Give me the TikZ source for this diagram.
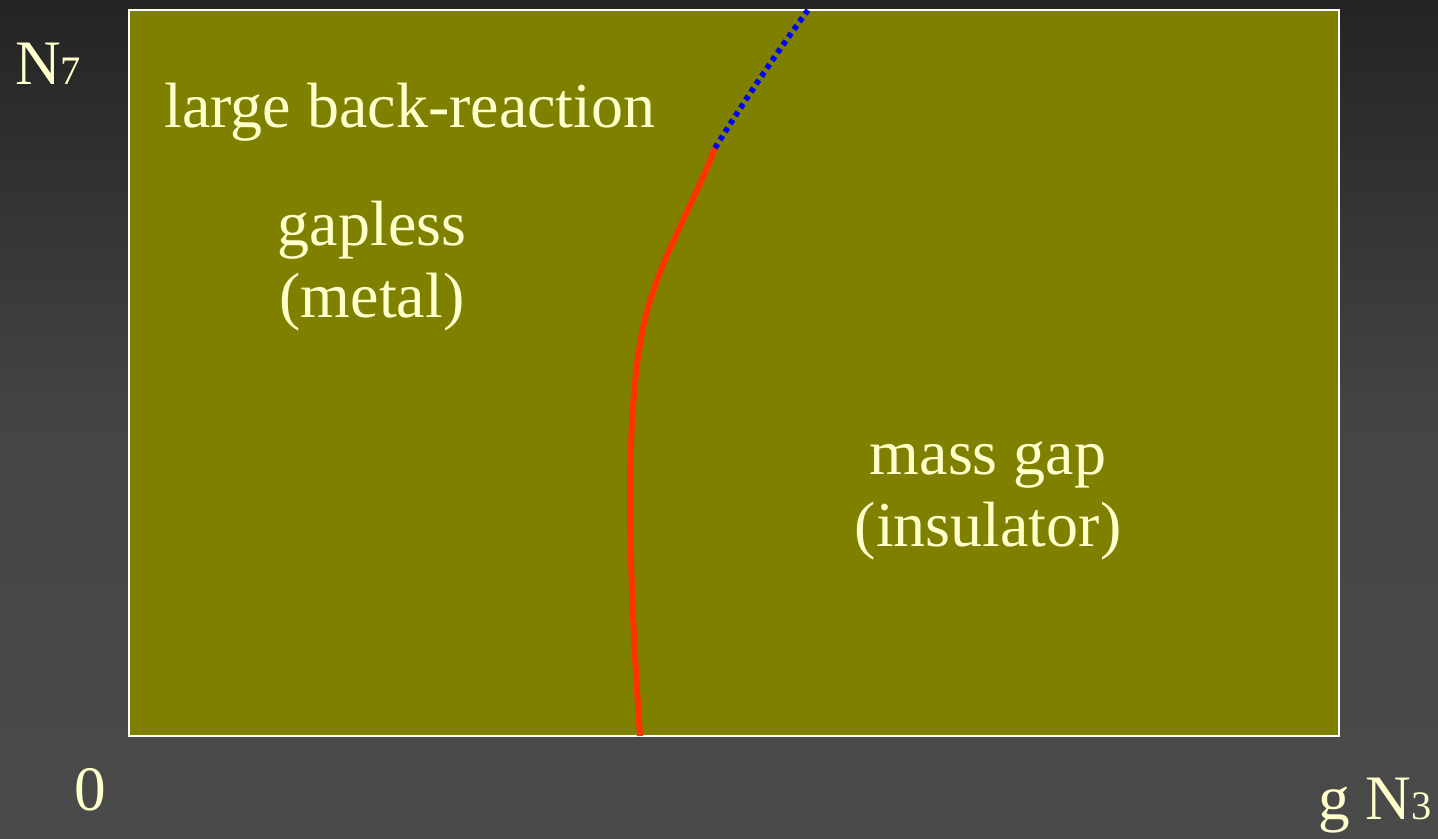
\documentclass[tikz,border=0pt]{standalone}
\usepackage{fontspec}
\setmainfont{Liberation Serif}
\usetikzlibrary{positioning}
\definecolor{slidetop}{HTML}{242424}
\definecolor{slidebottom}{HTML}{4A4A4A}
\definecolor{phaseolive}{HTML}{808000}
\definecolor{chalk}{HTML}{FFFFCC}
\definecolor{lineorange}{HTML}{FF3300}
\definecolor{lineblue}{HTML}{0000FF}
\tikzset{
  phaselabel/.style={
    text=chalk,
    align=center,
    inner sep=0pt,
    font=\fontsize{18.2pt}{20.5pt}\selectfont
  },
  axislabel/.style={
    text=chalk,
    inner sep=0pt,
    font=\fontsize{18pt}{22pt}\selectfont
  },
  phasebox/.style={
    fill=phaseolive,
    draw=white,
    line width=0.7pt
  },
  boundary/.style={
    draw=lineorange,
    line width=1.7pt
  },
  crossover/.style={
    draw=lineblue,
    line width=1.6pt,
    dash pattern=on 1.4pt off 1.3pt
  }
}
\newcommand{\smallsub}[1]{{\fontsize{11.5pt}{14pt}\selectfont #1}}

\begin{document}
\begin{tikzpicture}[x=0.01cm, y=-0.01cm]

% Slide background.
\shade[top color=slidetop, bottom color=slidebottom, middle color=slidebottom!85!slidetop]
  (0,0) rectangle (1438,838);
\useasboundingbox (0,0) rectangle (1438,838);

% Phase diagram area.
\path[phasebox] (129,10) rectangle (1339,736);

% Phase boundary: solid part, then dotted continuation.
\coordinate (bottom) at (640,736);
\coordinate (knee) at (715,148);
\coordinate (top) at (808,10);
\draw[boundary] (bottom) .. controls (628,560) and (622,380) .. (652,295)
  .. controls (668,245) and (695,200) .. (knee);
\draw[crossover] (knee) .. controls (745,100) and (775,55) .. (top);

% Region labels.
\node[phaselabel] (backreact) at (410,112) {large back-reaction};
\node[phaselabel] (metal) at (372,266) {gapless\\(metal)};
\node[phaselabel] (insulator) at (988,501) {mass gap\\(insulator)};

% Axis labels.
\node[axislabel] (yaxis) at (48,64) {N\smallsub{7}};
\node[axislabel] (origin) at (90,790) {0};
\node[axislabel] (xaxis) at (1375,806) {g N\smallsub{3}};

\end{tikzpicture}
\end{document}
